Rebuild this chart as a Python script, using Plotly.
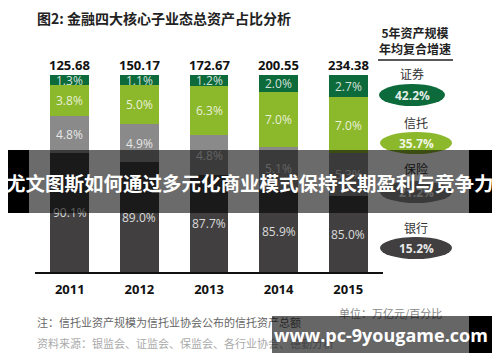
import plotly.graph_objects as go

# ---------------- data ----------------
years = ["2011", "2012", "2013", "2014", "2015"]
totals = [125.68, 150.17, 172.67, 200.55, 234.38]

bank_share = [90.1, 89.0, 87.7, 85.9, 85.0]
insurance_share = [4.8, 4.9, 4.8, 5.1, 5.3]
trust_share = [3.8, 5.0, 6.3, 7.0, 7.0]
securities_share = [1.3, 1.1, 1.2, 2.0, 2.7]

# drawn segment heights as they appear in the picture (the original is not to scale)
bank_h = [119, 110, 97, 82, 76]
insurance_h = [37, 38, 40, 43, 43]
trust_h = [31, 39, 49, 55, 56]
securities_h = [10, 10, 11, 17, 22]

cagr_labels = ["证券", "信托", "保险", "银行"]
cagr_values = ["42.2%", "35.7%", "21.2%", "15.2%"]

# ---------------- styling ----------------
OFF = 8  # page body margin
W, H = 500 - OFF, 362 - OFF
L, R, T, B = 35 - OFF, 383 - OFF, 75 - OFF, 272 - OFF
C_GREEN = "#0c6a3b"
C_LIME = "#8cb82b"
C_GRAY = "#8a8a8a"
C_DARK = "#413f40"
FONT = "Open Sans, Noto Sans CJK SC, sans-serif"
CJK = "Noto Sans CJK SC, sans-serif"


def xp(px):
    return (px - OFF - L) / (R - L)


def yp(py):
    return (B - (py - OFF)) / (B - T)


fig = go.Figure()
series = [
    ("银行", bank_h, bank_share, C_DARK),
    ("保险", insurance_h, insurance_share, C_GRAY),
    ("信托", trust_h, trust_share, C_LIME),
    ("证券", securities_h, securities_share, C_GREEN),
]
for name, h, s, c in series:
    fig.add_trace(go.Bar(x=years, y=h, name=name, marker=dict(color=c, line=dict(width=0)),
                         hoverinfo="skip"))

annotations = []


def note(x, y, text, font, xanchor="center", yanchor="middle", **kw):
    d = dict(x=x, y=y, xref="paper", yref="paper", showarrow=False, text=text,
             font=font, xanchor=xanchor, yanchor=yanchor, borderpad=0)
    d.update(kw)
    annotations.append(d)


# segment labels
base = [0] * len(years)
for name, h, s, c in series:
    for i, yr in enumerate(years):
        annotations.append(dict(x=i, y=base[i] + h[i] / 2, xref="x", yref="y",
                                text=f"{s[i]:.1f}%", showarrow=False,
                                xanchor="center", yanchor="middle",
                                font=dict(family=FONT, size=12, color="rgba(255,255,255,0.82)")))
        base[i] += h[i]
# totals
for i, yr in enumerate(years):
    annotations.append(dict(x=i, y=base[i], xref="x", yref="y", yshift=10,
                            text=f"{totals[i]:.2f}", showarrow=False,
                            xanchor="center", yanchor="middle",
                            font=dict(family=FONT, size=13, color="#111", weight="bold")))

# title
note(xp(36), yp(18), "图2: 金融四大核心子业态总资产占比分析",
     dict(family=CJK, size=14, color="#222", weight="bold"), xanchor="left")
# right panel header
note(xp(415), yp(40), "5年资产规模<br>年均复合增速",
     dict(family=CJK, size=12, color="#222", weight="bold"), align="center")

shapes = [dict(type="line", xref="paper", yref="paper", x0=xp(378), x1=xp(453),
               y0=yp(60), y1=yp(60), line=dict(color="#222", width=1.5))]

label_y = [73, 122, 168, 227]
ell_y = [95, 143, 192, 248]
ell_c = [C_GREEN, C_LIME, C_GRAY, C_DARK]
ell_cx = [412, 416, 416, 416]
ell_w = [66, 72, 72, 72]
for i in range(4):
    note(xp(ell_cx[i]), yp(label_y[i]), cagr_labels[i], dict(family=CJK, size=12, color="#333"))
    shapes.append(dict(type="circle", xref="paper", yref="paper",
                       x0=xp(ell_cx[i] - ell_w[i] / 2), x1=xp(ell_cx[i] + ell_w[i] / 2),
                       y0=yp(ell_y[i] - 11), y1=yp(ell_y[i] + 11),
                       fillcolor=ell_c[i], line=dict(width=0)))
    note(xp(ell_cx[i]), yp(ell_y[i]), cagr_values[i],
         dict(family=FONT, size=12, color="rgba(255,255,255,0.9)", weight="bold"))

# footnotes
note(xp(390), yp(313), "单位：万亿元/百分比", dict(family=CJK, size=11, color="#888"))
note(xp(36), yp(322), "注：信托业资产规模为信托业协会公布的信托资产总额",
     dict(family=CJK, size=11, color="#666"), xanchor="left")
note(xp(36), yp(343), "资料来源：银监会、证监会、保监会、各行业协会、德勤分析",
     dict(family=CJK, size=11, color="#aaa"), xanchor="left")


def block(x0, x1, y0, y1, color):
    note(xp((x0 + x1) / 2), yp((y0 + y1) / 2), " ", dict(size=10), width=x1 - x0,
         height=y1 - y0, bgcolor=color, borderwidth=0)


# banner overlay
block(0, 29, 150, 213, "#000")
block(29, 469, 150, 213, "rgba(0,0,0,0.58)")
block(469, 500, 150, 213, "#000")
note(xp(250), yp(182), "尤文图斯如何通过多元化商业模式保持长期盈利与竞争力",
     dict(family=CJK, size=19.5, color="#fff", weight="bold"))
# watermark
block(272, 469, 316, 353, "rgba(0,0,0,0.6)")
block(469, 492, 316, 353, "#000")
note(xp(381), yp(335), "www.pc-9yougame.com",
     dict(family=FONT, size=18, color="#fff", weight="bold"))

fig.update_layout(
    width=W, height=H,
    margin=dict(l=L, r=W - R, t=T, b=H - B, autoexpand=False),
    barmode="stack", bargap=0.44,
    paper_bgcolor="white", plot_bgcolor="white",
    showlegend=False,
    xaxis=dict(type="category", categoryorder="array", categoryarray=years,
               range=[-0.5, len(years) - 0.5], autorange=False,
               showline=True, linecolor="#111", linewidth=1.5, ticks="",
               showgrid=False, zeroline=False,
               tickfont=dict(family=FONT, size=13, color="#111", weight="bold"),
               ticklabelstandoff=5),
    yaxis=dict(range=[0, bank_h[0] + insurance_h[0] + trust_h[0] + securities_h[0]],
               autorange=False, visible=False, showgrid=False),
    annotations=annotations,
    shapes=shapes,
)

fig.write_html("out.html")
